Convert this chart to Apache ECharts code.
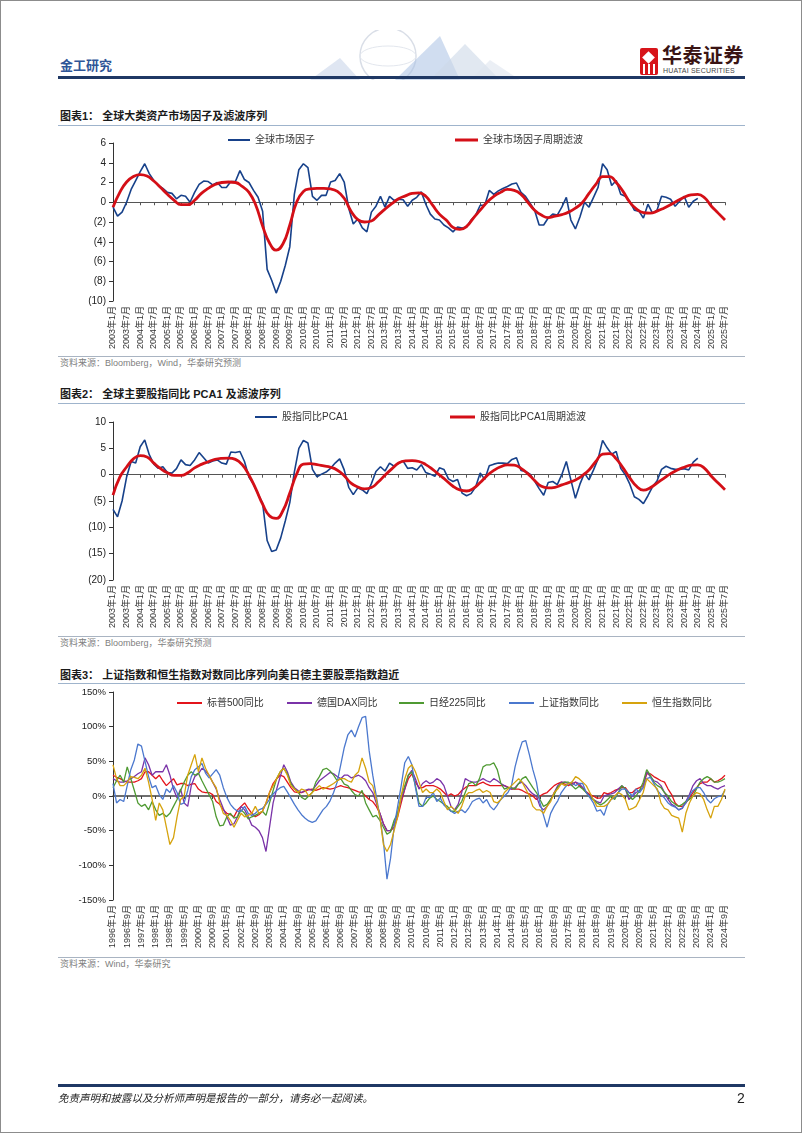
<!DOCTYPE html>
<html><head><meta charset="utf-8">
<script src="https://cdn.jsdelivr.net/npm/echarts@6/dist/echarts.min.js"></script>
<style>
html,body{margin:0;padding:0;background:#fff;}
#page{position:relative;width:802px;height:1133px;overflow:hidden;font-family:"Liberation Sans","Noto Sans CJK SC",sans-serif;background:#fff;}
#chart{position:absolute;left:0;top:0;width:802px;height:1133px;}
.t{position:absolute;white-space:nowrap;line-height:1.2;}
.ln{position:absolute;}
#border{position:absolute;left:0;top:0;width:800px;height:1131px;border:1px solid #8c8c8c;pointer-events:none;}
</style></head>
<body>
<div id="page">
  <svg style="position:absolute;left:300px;top:30px" width="240" height="50">
    <circle cx="88" cy="26" r="28" fill="none" stroke="#d9dee7" stroke-width="1.5"/>
    <ellipse cx="88" cy="26" rx="28" ry="10" fill="none" stroke="#e3e7ee" stroke-width="1"/>
    <polygon points="10,50 40,28 60,50" fill="#c9d6ea" opacity="0.6"/>
    <polygon points="95,50 140,6 160,50" fill="#a9c1e3" opacity="0.55"/>
    <polygon points="130,50 165,14 200,50" fill="#cdd8e8" opacity="0.6"/>
    <polygon points="170,50 190,30 220,50" fill="#dde4ee" opacity="0.6"/>
  </svg>
  <div class="t" style="left:60px;top:58px;font-size:13px;font-weight:bold;color:#2F5597;">金工研究</div>
  <div style="position:absolute;left:640px;top:48px;width:18px;height:27px;background:#D7141A;border-radius:2px;"></div>
  <div style="position:absolute;left:644px;top:53px;width:9px;height:9px;background:#fff;transform:rotate(45deg);"></div>
  <div style="position:absolute;left:643px;top:64px;width:2px;height:10px;background:#fff;"></div>
  <div style="position:absolute;left:648px;top:64px;width:2px;height:10px;background:#fff;"></div>
  <div style="position:absolute;left:653px;top:64px;width:2px;height:10px;background:#fff;"></div>
  <div class="t" style="left:662px;top:44px;font-size:20px;font-weight:bold;color:#3a1414;letter-spacing:0.5px;">华泰证券</div>
  <div class="t" style="left:663px;top:67px;font-size:7px;color:#444;letter-spacing:0.2px;">HUATAI SECURITIES</div>
  <div class="ln" style="left:58px;top:76px;width:687px;height:3px;background:#1F3864;"></div>

  <div class="t" style="left:60px;top:110px;font-size:11px;font-weight:bold;color:#1a1a1a;">图表1：&nbsp;全球大类资产市场因子及滤波序列</div>
  <div class="ln" style="left:58px;top:125px;width:687px;height:1px;background:#9FB4CC;"></div>
  <div class="ln" style="left:58px;top:356px;width:687px;height:1px;background:#A9B4C2;"></div>
  <div class="t" style="left:60px;top:358px;font-size:9px;color:#808080;">资料来源：Bloomberg，Wind，华泰研究预测</div>

  <div class="t" style="left:60px;top:388px;font-size:11px;font-weight:bold;color:#1a1a1a;">图表2：&nbsp;全球主要股指同比 PCA1 及滤波序列</div>
  <div class="ln" style="left:58px;top:403px;width:687px;height:1px;background:#9FB4CC;"></div>
  <div class="ln" style="left:58px;top:636px;width:687px;height:1px;background:#A9B4C2;"></div>
  <div class="t" style="left:60px;top:638px;font-size:9px;color:#808080;">资料来源：Bloomberg，华泰研究预测</div>

  <div class="t" style="left:60px;top:669px;font-size:11px;font-weight:bold;color:#1a1a1a;">图表3：&nbsp;上证指数和恒生指数对数同比序列向美日德主要股票指数趋近</div>
  <div class="ln" style="left:58px;top:683px;width:687px;height:1px;background:#9FB4CC;"></div>
  <div class="ln" style="left:58px;top:957px;width:687px;height:1px;background:#A9B4C2;"></div>
  <div class="t" style="left:60px;top:959px;font-size:9px;color:#808080;">资料来源：Wind，华泰研究</div>

  <div id="chart"></div>

  <div class="ln" style="left:58px;top:1084px;width:687px;height:3px;background:#1F3864;"></div>
  <div class="t" style="left:58px;top:1092px;font-size:10.5px;font-style:italic;color:#222;">免责声明和披露以及分析师声明是报告的一部分，请务必一起阅读。</div>
  <div class="t" style="left:737px;top:1090px;font-size:14px;color:#222;">2</div>
  <div id="border"></div>
</div>
<script>
// ---------- Chart 1: 全球市场因子 (every 2 months from 2003-01) ----------
const factorValues = [
  -0.5, -1.4, -1.0, 0.0, 1.3, 2.2,      // 2003
  3.1, 3.9, 2.9, 2.2, 1.7, 1.4,         // 2004
  1.0, 0.9, 0.35, 0.7, 0.6, 0.0,        // 2005
  1.0, 1.8, 2.15, 2.1, 1.75, 2.0,       // 2006
  1.5, 1.5, 2.1, 2.1, 3.2, 2.3,         // 2007
  2.0, 1.2, 0.5, -0.9, -6.8, -7.9,      // 2008
  -9.2, -8.0, -6.4, -4.5, 0.8, 3.3,     // 2009
  3.9, 3.5, 0.6, 0.2, 0.7, 0.7,         // 2010
  2.05, 2.2, 2.9, 2.05, -0.6, -2.2,     // 2011
  -1.7, -2.6, -3.0, -1.0, -0.4, 0.6,    // 2012
  -0.5, 0.6, 0.2, 0.3, 0.25, -0.4,      // 2013
  0.2, 0.5, 1.05, -0.2, -1.2, -1.7,     // 2014
  -1.8, -2.3, -2.6, -3.0, -2.5, -2.6,   // 2015
  -2.5, -1.8, -1.3, -0.3, -0.3, 1.2,    // 2016
  0.8, 1.15, 1.4, 1.6, 1.85, 1.95,      // 2017
  1.0, 0.6, -0.1, -0.8, -2.3, -2.3,     // 2018
  -1.6, -1.2, -1.3, -0.5, 0.5, -1.8,    // 2019
  -2.7, -1.5, 0.0, -0.5, 0.5, 1.5,      // 2020
  3.9, 3.3, 1.7, 2.2, 0.8, 0.6,         // 2021
  0.1, -0.8, -0.9, -1.6, -0.2, -1.1,    // 2022
  -0.8, 0.6, 0.5, 0.3, -0.4, 0.1,       // 2023
  0.6, -0.5, 0.1, 0.4                   // 2024
];
// 全球市场因子周期滤波 (every 3 months from 2003-01)
const factorFilter = [
  -0.5, 1.0, 2.05, 2.6,     // 2003
  2.8, 2.65, 2.15, 1.5,     // 2004
  0.8, 0.2, -0.25, -0.25,   // 2005
  0.2, 0.9, 1.4, 1.8,       // 2006
  2.0, 2.05, 2.0, 1.6,      // 2007
  1.0, -0.3, -2.4, -4.1,    // 2008
  -4.85, -4.2, -2.3, 0.0,   // 2009
  1.1, 1.35, 1.4, 1.4,      // 2010
  1.35, 1.1, 0.4, -0.9,     // 2011
  -1.75, -2.0, -1.9, -1.3,  // 2012
  -0.7, -0.15, 0.35, 0.65,  // 2013
  0.9, 0.95, 0.6, -0.3,     // 2014
  -1.2, -1.8, -2.55, -2.75, // 2015
  -2.45, -1.6, -0.8, 0.0,   // 2016
  0.6, 1.0, 1.3, 1.2,       // 2017
  0.8, 0.0, -0.8, -1.3,     // 2018
  -1.55, -1.4, -1.25, -1.0, // 2019
  -0.6, -0.05, 0.9, 1.8,    // 2020
  2.6, 2.6, 2.0, 1.1,       // 2021
  0.0, -0.7, -1.05, -1.1,   // 2022
  -0.9, -0.6, -0.25, 0.15,  // 2023
  0.5, 0.75, 0.8, 0.45,     // 2024
  -0.4, -1.1, -1.8          // 2025
];
// ---------- Chart 2: 股指同比PCA1 (every 2 months from 2003-01) ----------
const pcaValues = [
  -6.6, -8.0, -5.0, -0.45, 2.5, 2.2,    // 2003
  5.3, 6.6, 3.8, 2.0, 1.2, 1.5,         // 2004
  0.4, 0.3, 1.15, 2.8, 1.9, 1.75,       // 2005
  2.8, 4.2, 3.2, 2.2, 2.6, 2.8,         // 2006
  2.2, 2.0, 4.3, 4.2, 4.4, 2.5,         // 2007
  -0.5, -1.8, -3.7, -5.4, -12.5, -14.6, // 2008
  -14.3, -12.0, -8.8, -5.3, 0.5, 5.0,   // 2009
  6.5, 6.0, 1.0, -0.4, 0.1, 0.5,        // 2010
  1.2, 2.2, 3.0, 0.9, -2.4, -3.8,       // 2011
  -2.5, -2.9, -3.6, -1.7, 0.6, 1.5,     // 2012
  0.7, 2.2, 1.6, 2.2, 2.6, 1.2,         // 2013
  1.3, 0.9, 1.9, 0.4, 0.1, -0.3,        // 2014
  1.3, 1.0, -0.8, -1.3, -0.9, -3.5,     // 2015
  -4.0, -3.6, -2.3, 0.3, -0.9, 1.7,     // 2016
  2.0, 2.2, 2.2, 2.1, 2.9, 3.2,         // 2017
  0.8, 0.6, 0.1, -1.2, -2.65, -3.9,     // 2018
  -1.5, -1.3, -1.9, 0.0, 2.5, -1.0,     // 2019
  -4.5, -1.8, 0.3, -1.0, 0.9, 3.0,      // 2020
  6.5, 5.1, 3.9, 4.4, 1.2, 0.0,         // 2021
  -1.8, -4.2, -4.7, -5.5, -4.0, -2.3,   // 2022
  -1.2, 1.0, 1.6, 1.2, 1.0, 1.0,        // 2023
  1.15, 0.9, 2.4, 3.15                  // 2024
];
// 股指同比PCA1周期滤波 (every 3 months from 2003-01)
const pcaFilter = [
  -3.9, -0.45, 1.45, 3.0,   // 2003
  3.6, 3.35, 2.2, 1.15,     // 2004
  0.35, -0.15, -0.15, 0.35, // 2005
  1.3, 1.95, 2.45, 2.9,     // 2006
  3.1, 3.15, 2.9, 1.9,      // 2007
  -0.1, -2.7, -5.6, -7.8,   // 2008
  -8.3, -6.8, -3.5, 0.1,    // 2009
  2.0, 2.1, 1.9, 1.65,      // 2010
  1.4, 0.85, -0.2, -1.6,    // 2011
  -2.35, -2.7, -2.45, -1.4, // 2012
  -0.1, 1.1, 2.2, 2.6,      // 2013
  2.65, 2.5, 1.9, 1.0,      // 2014
  -0.05, -1.1, -2.2, -2.9,  // 2015
  -3.1, -2.6, -1.5, -0.2,   // 2016
  0.8, 1.5, 1.85, 1.8,      // 2017
  1.2, 0.2, -1.1, -2.2,     // 2018
  -2.5, -2.4, -1.95, -1.5,  // 2019
  -1.0, -0.2, 0.9, 2.5,     // 2020
  3.9, 4.0, 3.0, 1.3,       // 2021
  -0.6, -2.2, -2.95, -2.5,  // 2022
  -1.6, -0.7, 0.2, 0.9,     // 2023
  1.4, 1.8, 1.85, 1.2,      // 2024
  -0.3, -1.6, -2.85         // 2025
];
// ---------- Chart 3: 对数同比 % (every 2 months from 1996-01 to 2024-09) ----------
const spx = [
  30, 27, 25, 22, 20, 20,  20, 22, 25, 35, 35, 30,  25, 30, 22, 15, 20, 25,  16, 18, 18, 15, 17, 18,  // 1996-1999
  10, 6, 5, 5, 2, -8,  -12, -20, -25, -27, -30, -20,  -15, -10, -18, -25, -30, -27,  -22, -10, 5, 18, 25, 30, // 2000-2003
  28, 20, 12, 6, 5, 5,  7, 9, 10, 8, 10, 12,  11, 10, 11, 13, 15, 13,  12, 10, 8, 6, 5, 0,  // 2004-2007
  -5, -8, -15, -25, -40, -50,  -50, -45, -30, -10, 10, 25,  32, 20, 12, 12, 15, 15,  15, 13, 10, 5, 0, 3, // 2008-2011
  0, 2, 8, 12, 15, 15,  15, 18, 20, 17, 15, 15,  15, 15, 15, 13, 10, 10,  10, 8, 5, 3, 0, -5, // 2012-2015
  0, 3, 5, 10, 15, 18,  20, 17, 15, 18, 20, 15,  12, 6, 2, 0, -3, -3,  5, 3, 5, 8, 10, 12, // 2016-2019
  12, 5, 5, 10, 12, 15,  32, 32, 28, 25, 22, 20,  10, 2, -10, -15, -15, -10,  -3, 5, 12, 18, 20, 20, // 2020-2023
  25, 20, 22, 25, 30 // 2024
];
const dax = [
  25, 22, 20, 20, 22, 25,  28, 32, 35, 55, 45, 30,  35, 35, 35, 45, 30, 10,  -3, 10, -10, -15, 15, 28, // 1996-1999
  32, 40, 36, 30, 20, 10,  -5, -18, -30, -42, -40, -30,  -15, -20, -30, -42, -45, -50,  -60, -80, -45, -10, 10, 28, // 2000-2003
  45, 35, 20, 12, 8, 5,  8, 10, 8, 15, 22, 26,  30, 34, 32, 28, 25, 30,  30, 26, 28, 30, 27, 22, // 2004-2007
  12, 5, -10, -25, -40, -50,  -50, -40, -25, -5, 10, 30,  37, 25, 10, 18, 22, 18,  20, 25, 22, 15, 0, -15, // 2008-2011
  -20, -12, 5, 25, 22, 20,  20, 22, 25, 22, 20, 25,  22, 18, 15, 12, 10, 12,  18, 20, 15, 8, 3, 0, // 2012-2015
  -15, -20, -15, -5, 5, 15,  20, 20, 18, 15, 20, 18,  12, 5, 0, -5, -8, -10,  0, 2, 3, 5, 10, 15, // 2016-2019
  10, -5, 0, 5, 8, 12,  35, 28, 22, 20, 15, 5,  -5, -12, -15, -20, -18, -8,  2, 15, 22, 25, 18, 15, // 2020-2023
  15, 12, 10, 13, 15 // 2024
];
const nikkei = [
  12, 22, 30, 20, 42, 25,  8, -10, -15, -12, -20, -8,  -20, -28, -25, -30, -25, -15,  -5, 8, 20, 30, 35, 30, // 1996-1999
  33, 22, 12, 2, -8, -30,  -43, -42, -30, -25, -32, -30,  -20, -25, -33, -30, -28, -25,  -22, -28, -10, 8, 25, 35, // 2000-2003
  40, 32, 18, 10, 6, -2,  -5, 0, 5, 20, 28, 38,  40, 36, 30, 22, 25, 17,  15, 8, 2, 0, 8, -10, // 2004-2007
  -20, -30, -28, -35, -45, -55,  -52, -35, -25, 0, 15, 30,  35, 15, -10, -15, -10, -3,  0, -5, -8, -12, -15, -22, // 2008-2011
  -22, -15, -8, 5, 18, 20,  15, 25, 42, 45, 45, 48,  38, 18, 10, 12, 12, 10,  18, 25, 28, 20, 12, 5, // 2012-2015
  -5, -15, -12, -5, 2, 13,  18, 20, 20, 15, 10, 14,  10, 5, -2, -5, -10, -13,  -10, -5, 0, -5, 5, 15, // 2016-2019
  10, 0, -5, 0, 8, 20,  38, 30, 20, 15, 12, 5,  0, -8, -12, -15, -12, -8,  -5, 0, 10, 20, 25, 28, // 2020-2023
  25, 20, 20, 22, 25 // 2024
];
const shcomp = [
  18, -10, -5, -8, 15, 38,  52, 75, 72, 50, 28, 12,  15, 2, -5, 10, 5, 15,  5, -12, -10, 8, 28, 38, // 1996-1999
  42, 47, 33, 26, 32, 38,  30, 12, -2, -12, -18, -22,  -22, -15, -25, -28, -25, -20,  -18, -12, -5, 3, 8, 12, // 2000-2003
  14, 6, -3, -12, -20, -27,  -32, -36, -38, -36, -28, -20,  -15, -7, 5, 20, 45, 70,  88, 95, 85, 100, 113, 115, // 2004-2007
  65, 30, 0, -30, -65, -120,  -90, -45, -15, 15, 48, 57,  45, 12, -15, -15, -2, -2,  5, -8, -3, -13, -18, -22, // 2008-2011
  -25, -22, -20, -24, -17, -8,  -5, -3, -10, -5, -15, -20,  -13, -5, 0, 5, 15, 42,  62, 78, 80, 60, 38, 20, // 2012-2015
  -10, -28, -45, -25, -15, -7,  5, 12, 18, 20, 15, 18,  18, 5, -2, -10, -22, -20,  -28, -12, -5, -2, 5, 10, // 2016-2019
  10, 5, 0, 10, 5, 12,  25, 27, 18, 8, 2, -3,  -10, -14, -16, -20, -17, -10,  0, 8, 12, 12, 5, -5, // 2020-2023
  -10, -4, -1, 0, 8 // 2024
];
const hsi = [
  45, 25, 15, 15, 20, 28,  27, 25, 30, 40, 20, -5,  -35, -10, -20, -45, -70, -60,  -30, -5, 0, 30, 45, 60, // 1996-1999
  35, 55, 40, 30, 20, 12,  -10, -25, -28, -35, -45, -35,  -25, -30, -28, -25, -15, -25,  -22, -10, 5, 15, 25, 35, // 2000-2003
  40, 30, 15, 10, 5, 10,  8, 0, 5, 10, 15, 10,  12, 15, 18, 22, 25, 25,  22, 20, 30, 35, 55, 40, // 2004-2007
  20, 15, -5, -30, -70, -80,  -70, -50, -30, 0, 25, 40,  45, 35, 20, 5, 10, 5,  5, 10, 5, -8, -20, -15, // 2008-2011
  -20, -25, -15, 0, 5, 5,  8, 10, 5, 8, 5, -8,  -10, -5, 5, 10, 15, 20,  25, 20, 10, 0, -15, -20, // 2012-2015
  -20, -25, -15, -8, 5, 10,  18, 15, 18, 20, 28, 25,  20, 15, 5, -5, -15, -15,  -15, -12, -5, 0, 5, 2, // 2016-2019
  -5, -20, -18, -15, -5, 5,  25, 20, 15, 10, -10, -18,  -20, -28, -30, -32, -52, -25,  -10, 0, 5, 3, -5, -20, // 2020-2023
  -32, -15, -15, -5, 10 // 2024
];

const FONT = '"Liberation Sans","Noto Sans CJK SC",sans-serif';
const pairs = (vals, step) => vals.map((v, i) => [i * step, v]);
const ymFmt = start => v => (start + Math.floor(v / 12)) + '年' + (v % 12 + 1) + '月';
const parenFmt = v => v < 0 ? '(' + (-v) + ')' : String(v);

function xAxes(g, max, interval, fmt, zc, zw) {
  return [
    {type: 'value', gridIndex: g, min: 0, max: max, interval: interval, position: 'bottom',
     axisLine: {show: true, onZero: true, lineStyle: {color: zc, width: zw}},
     axisTick: {show: true, length: 3, lineStyle: {color: zc}},
     axisLabel: {show: false}, splitLine: {show: false}},
    {type: 'value', gridIndex: g, min: 0, max: max, interval: interval, position: 'bottom',
     axisLine: {show: false, onZero: false}, axisTick: {show: false},
     axisLabel: {show: true, rotate: 90, fontSize: 9, color: '#333', margin: 5, fontFamily: FONT,
                 formatter: fmt, showMinLabel: true, showMaxLabel: true},
     splitLine: {show: false}}
  ];
}
function yAxis(g, min, max, interval, fmt, fs) {
  return {type: 'value', gridIndex: g, min: min, max: max, interval: interval,
    axisLine: {show: true, lineStyle: {color: '#333', width: 1}},
    axisTick: {show: true, length: 4, lineStyle: {color: '#333'}},
    axisLabel: {fontSize: fs, color: '#222', margin: 7, fontFamily: FONT, formatter: fmt},
    splitLine: {show: false}};
}
function legend(name, left, top, w, h) {
  return {data: [name], left: left, top: top, icon: 'rect', itemWidth: w, itemHeight: h,
    padding: 0, itemGap: 0, selectedMode: false, orient: 'horizontal',
    textStyle: {fontSize: 10, color: '#333', fontFamily: FONT}};
}
function line(name, xi, yi, data, color, width, smooth, z) {
  return {name: name, type: 'line', xAxisIndex: xi, yAxisIndex: yi, data: data,
    symbol: 'none', showSymbol: false, smooth: smooth, z: z,
    lineStyle: {color: color, width: width}, itemStyle: {color: color}};
}

const BLUE = '#17418A', RED = '#D40F17';
const option = {
  animation: false,
  textStyle: {fontFamily: FONT},
  grid: [
    {left: 113, top: 143, width: 612, height: 158, containLabel: false, outerBoundsMode: 'none'},
    {left: 113, top: 422, width: 612, height: 158, containLabel: false, outerBoundsMode: 'none'},
    {left: 113, top: 692, width: 612, height: 208, containLabel: false, outerBoundsMode: 'none'}
  ],
  xAxis: [].concat(
    xAxes(0, 270, 6, ymFmt(2003), '#555', 1),
    xAxes(1, 270, 6, ymFmt(2003), '#555', 1),
    xAxes(2, 344, 8, ymFmt(1996), '#404040', 1.6)
  ),
  yAxis: [
    yAxis(0, -10, 6, 2, parenFmt, 10),
    yAxis(1, -20, 10, 5, parenFmt, 10),
    yAxis(2, -150, 150, 50, v => v + '%', 9.5)
  ],
  legend: [
    legend('全球市场因子', 228, 135, 22, 2),
    legend('全球市场因子周期滤波', 455, 135, 23, 3),
    legend('股指同比PCA1', 255, 412, 22, 2),
    legend('股指同比PCA1周期滤波', 450, 412, 25, 3),
    legend('标普500同比', 177, 698, 25, 2),
    legend('德国DAX同比', 287, 698, 25, 2),
    legend('日经225同比', 399, 698, 25, 2),
    legend('上证指数同比', 509, 698, 25, 2),
    legend('恒生指数同比', 622, 698, 25, 2)
  ],
  series: [
    line('全球市场因子', 0, 0, pairs(factorValues, 2), BLUE, 1.6, false, 2),
    line('全球市场因子周期滤波', 0, 0, pairs(factorFilter, 3), RED, 2.8, true, 3),
    line('股指同比PCA1', 2, 1, pairs(pcaValues, 2), BLUE, 1.6, false, 2),
    line('股指同比PCA1周期滤波', 2, 1, pairs(pcaFilter, 3), RED, 2.8, true, 3),
    line('标普500同比', 4, 2, pairs(spx, 2), '#E3141B', 1.3, false, 2),
    line('德国DAX同比', 4, 2, pairs(dax, 2), '#7A33A8', 1.3, false, 2),
    line('日经225同比', 4, 2, pairs(nikkei, 2), '#4F9A32', 1.3, false, 2),
    line('上证指数同比', 4, 2, pairs(shcomp, 2), '#4B78CE', 1.3, false, 2),
    line('恒生指数同比', 4, 2, pairs(hsi, 2), '#D6A30E', 1.3, false, 2)
  ]
};
const chart = echarts.init(document.getElementById('chart'), null, {renderer: 'canvas'});
chart.setOption(option);
</script>
</body></html>
